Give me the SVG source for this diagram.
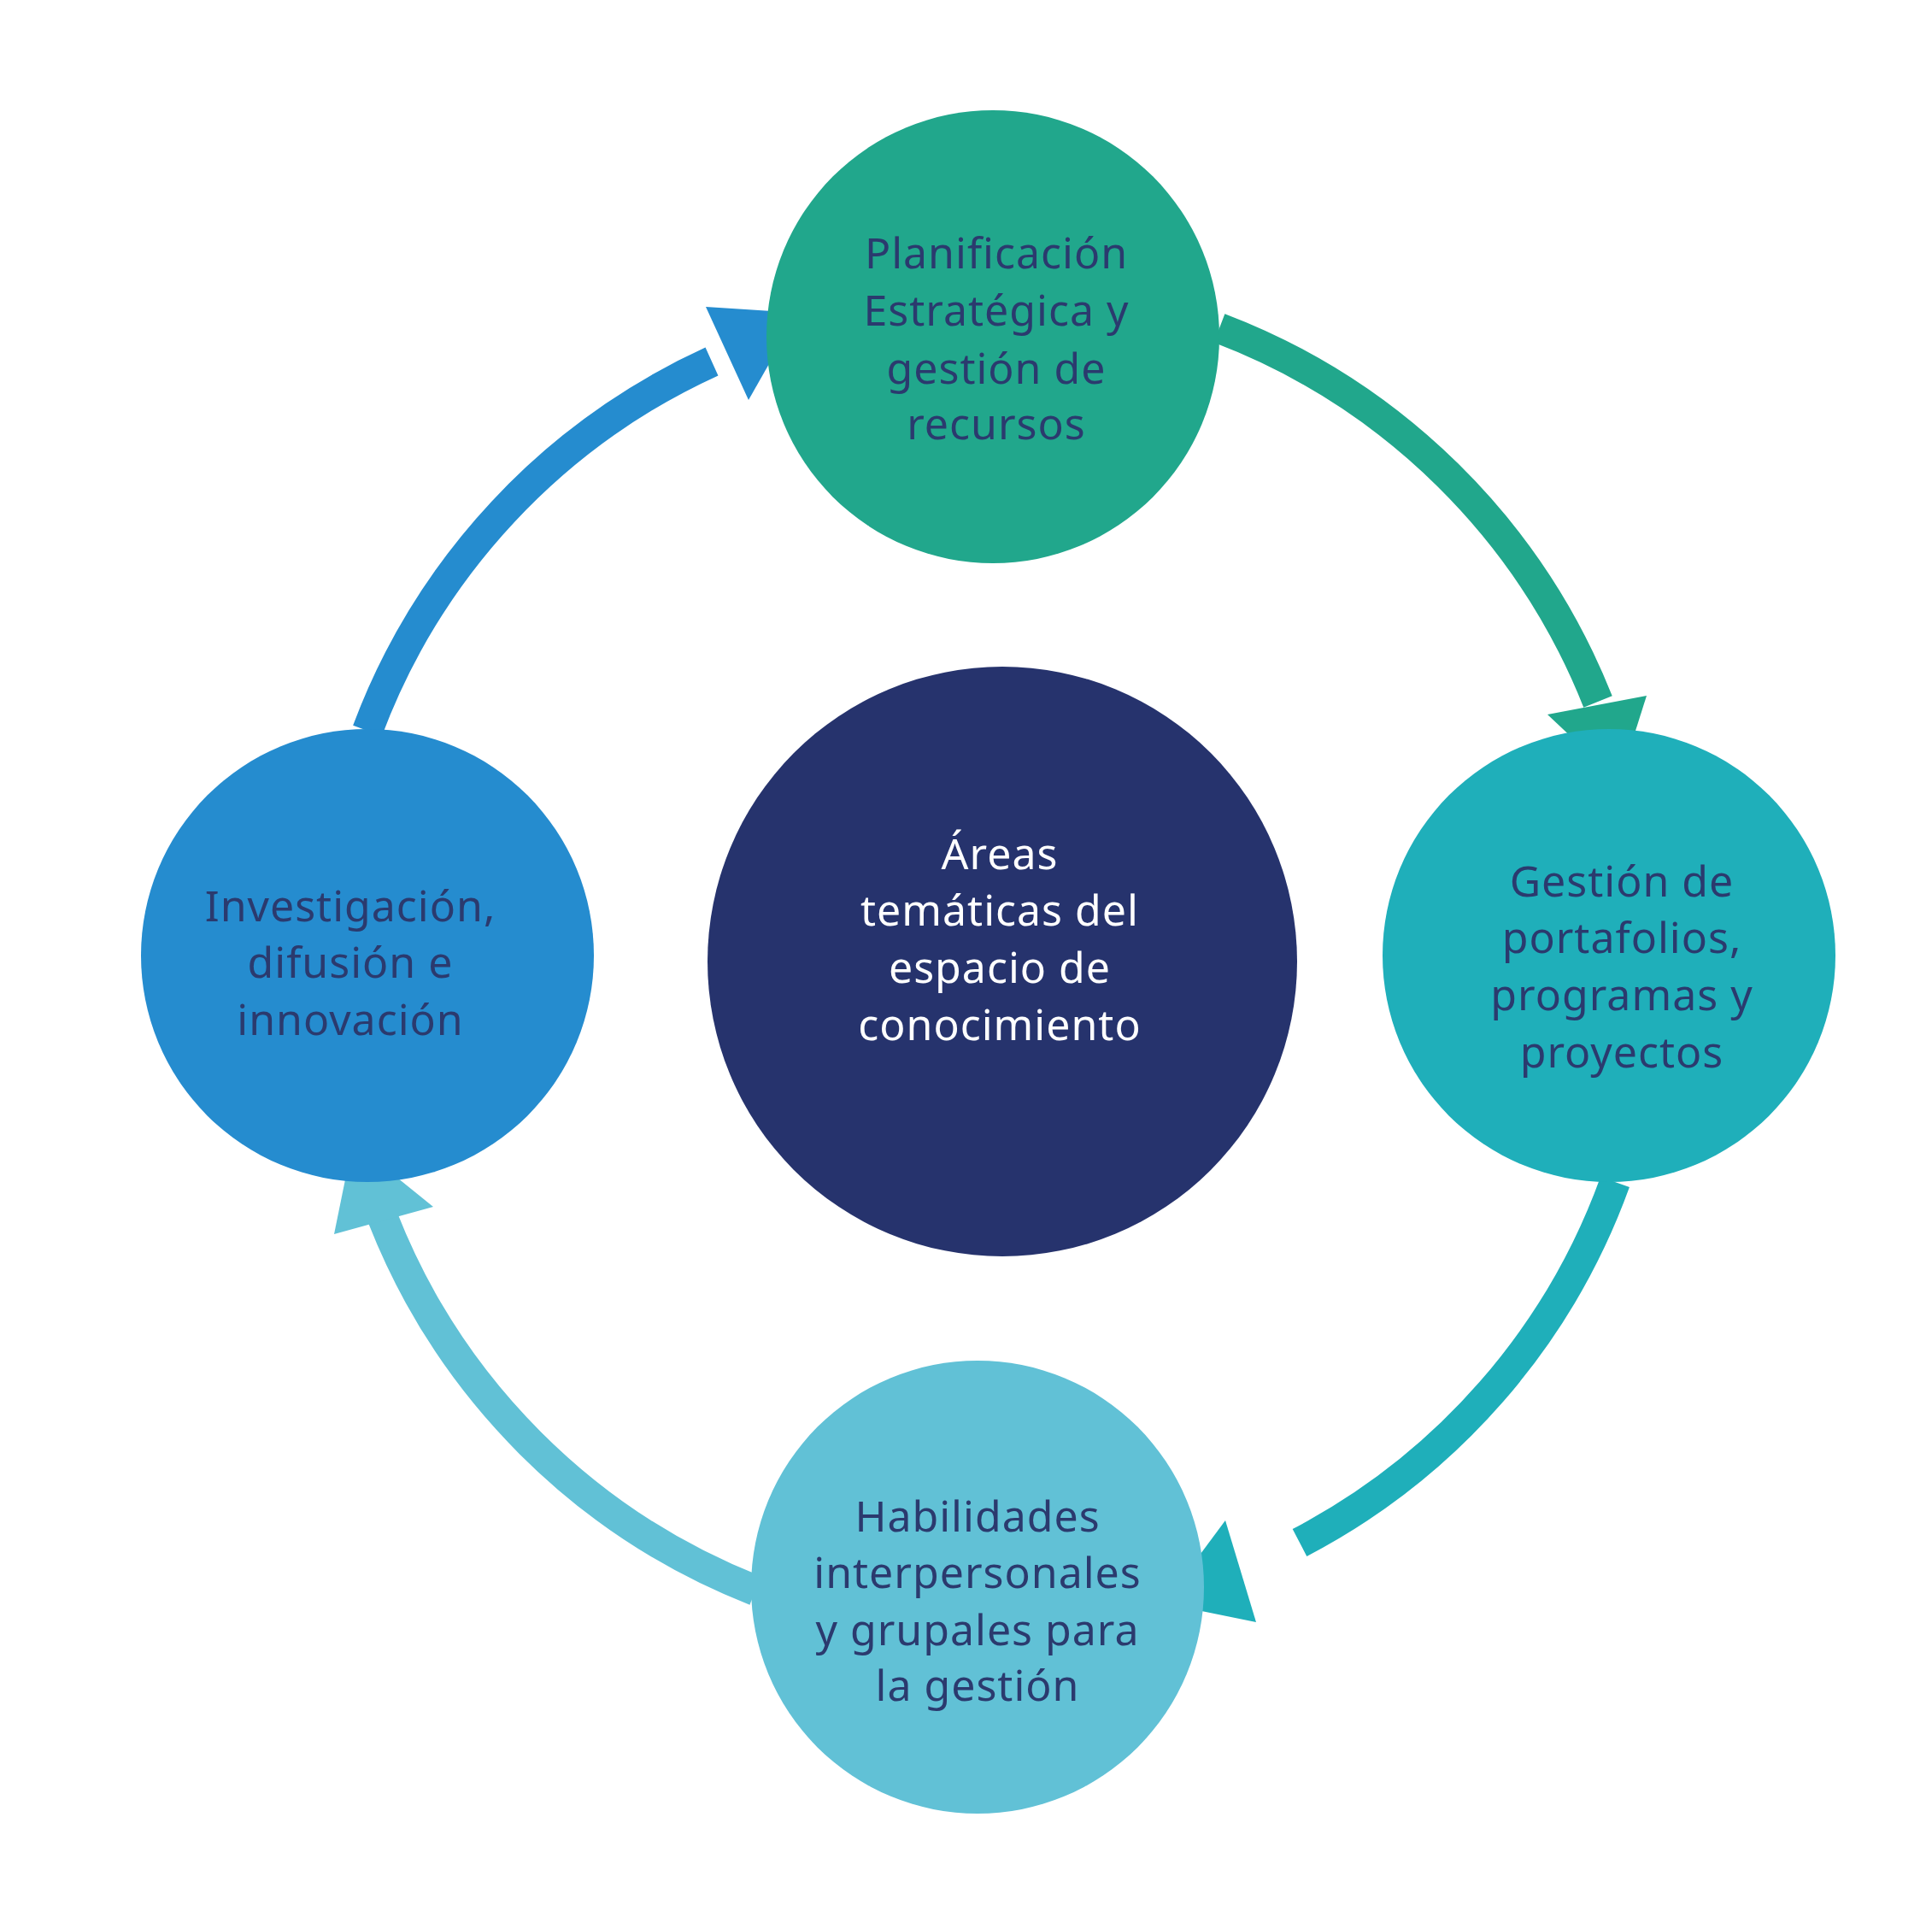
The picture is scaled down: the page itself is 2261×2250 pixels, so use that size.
<svg xmlns="http://www.w3.org/2000/svg" width="2261" height="2250" viewBox="0 0 2261 2250">
<style>
.a{fill:none;stroke-width:36}
.t{font-family:"Noto Sans","Liberation Sans",sans-serif;font-size:50px;fill:#2b3a6e;text-anchor:middle;letter-spacing:1px}
.w{fill:#ffffff}
</style>
<rect width="2261" height="2250" fill="#ffffff"/>
<g id="connectors">
<path class="a" stroke="#258ccf" d="M430,855 A772,772 0 0 1 833,423"/>
<polygon fill="#258ccf" points="826,359 934,366 876,468"/>
<path class="a" stroke="#21a78c" d="M1427,384 A772,772 0 0 1 1870,821"/>
<polygon fill="#21a78c" points="1811,836 1927,814 1895,915"/>
<path class="a" stroke="#1fafba" d="M1890,1383 A772,772 0 0 1 1521,1805"/>
<polygon fill="#1fafba" points="1434,1779 1470,1898 1362,1876"/>
<path class="a" stroke="#61c1d6" d="M884,1861 A772,772 0 0 1 448,1425"/>
<polygon fill="#61c1d6" points="413,1336 507,1412 391,1444"/>
</g>
<g id="top"><circle cx="1162" cy="394" r="265" fill="#21a78c"/>
<text class="t" x="1166" y="314">Planificación</text><text class="t" x="1166" y="381">Estratégica y</text><text class="t" x="1166" y="449">gestión de</text><text class="t" x="1166" y="514">recursos</text></g>
<g id="right"><circle cx="1883" cy="1118" r="265" fill="#1fafba"/>
<text class="t" x="1898" y="1049">Gestión de</text><text class="t" x="1898" y="1115">portafolios,</text><text class="t" x="1898" y="1182">programas y</text><text class="t" x="1898" y="1249">proyectos</text></g>
<g id="bottom"><circle cx="1144" cy="1857" r="265" fill="#61c1d6"/>
<text class="t" x="1144" y="1792">Habilidades</text><text class="t" x="1144" y="1858">interpersonales</text><text class="t" x="1144" y="1925">y grupales para</text><text class="t" x="1144" y="1990">la gestión</text></g>
<g id="left"><circle cx="430" cy="1118" r="265" fill="#258ccf"/>
<text class="t" x="410" y="1078">Investigación,</text><text class="t" x="410" y="1144">difusión e</text><text class="t" x="410" y="1211">innovación</text></g>
<g id="center"><circle cx="1173" cy="1125" r="345" fill="#26336d"/>
<text class="t w" x="1170" y="1017">Áreas</text><text class="t w" x="1170" y="1083">temáticas del</text><text class="t w" x="1170" y="1150">espacio de</text><text class="t w" x="1170" y="1217">conocimiento</text></g>
</svg>
